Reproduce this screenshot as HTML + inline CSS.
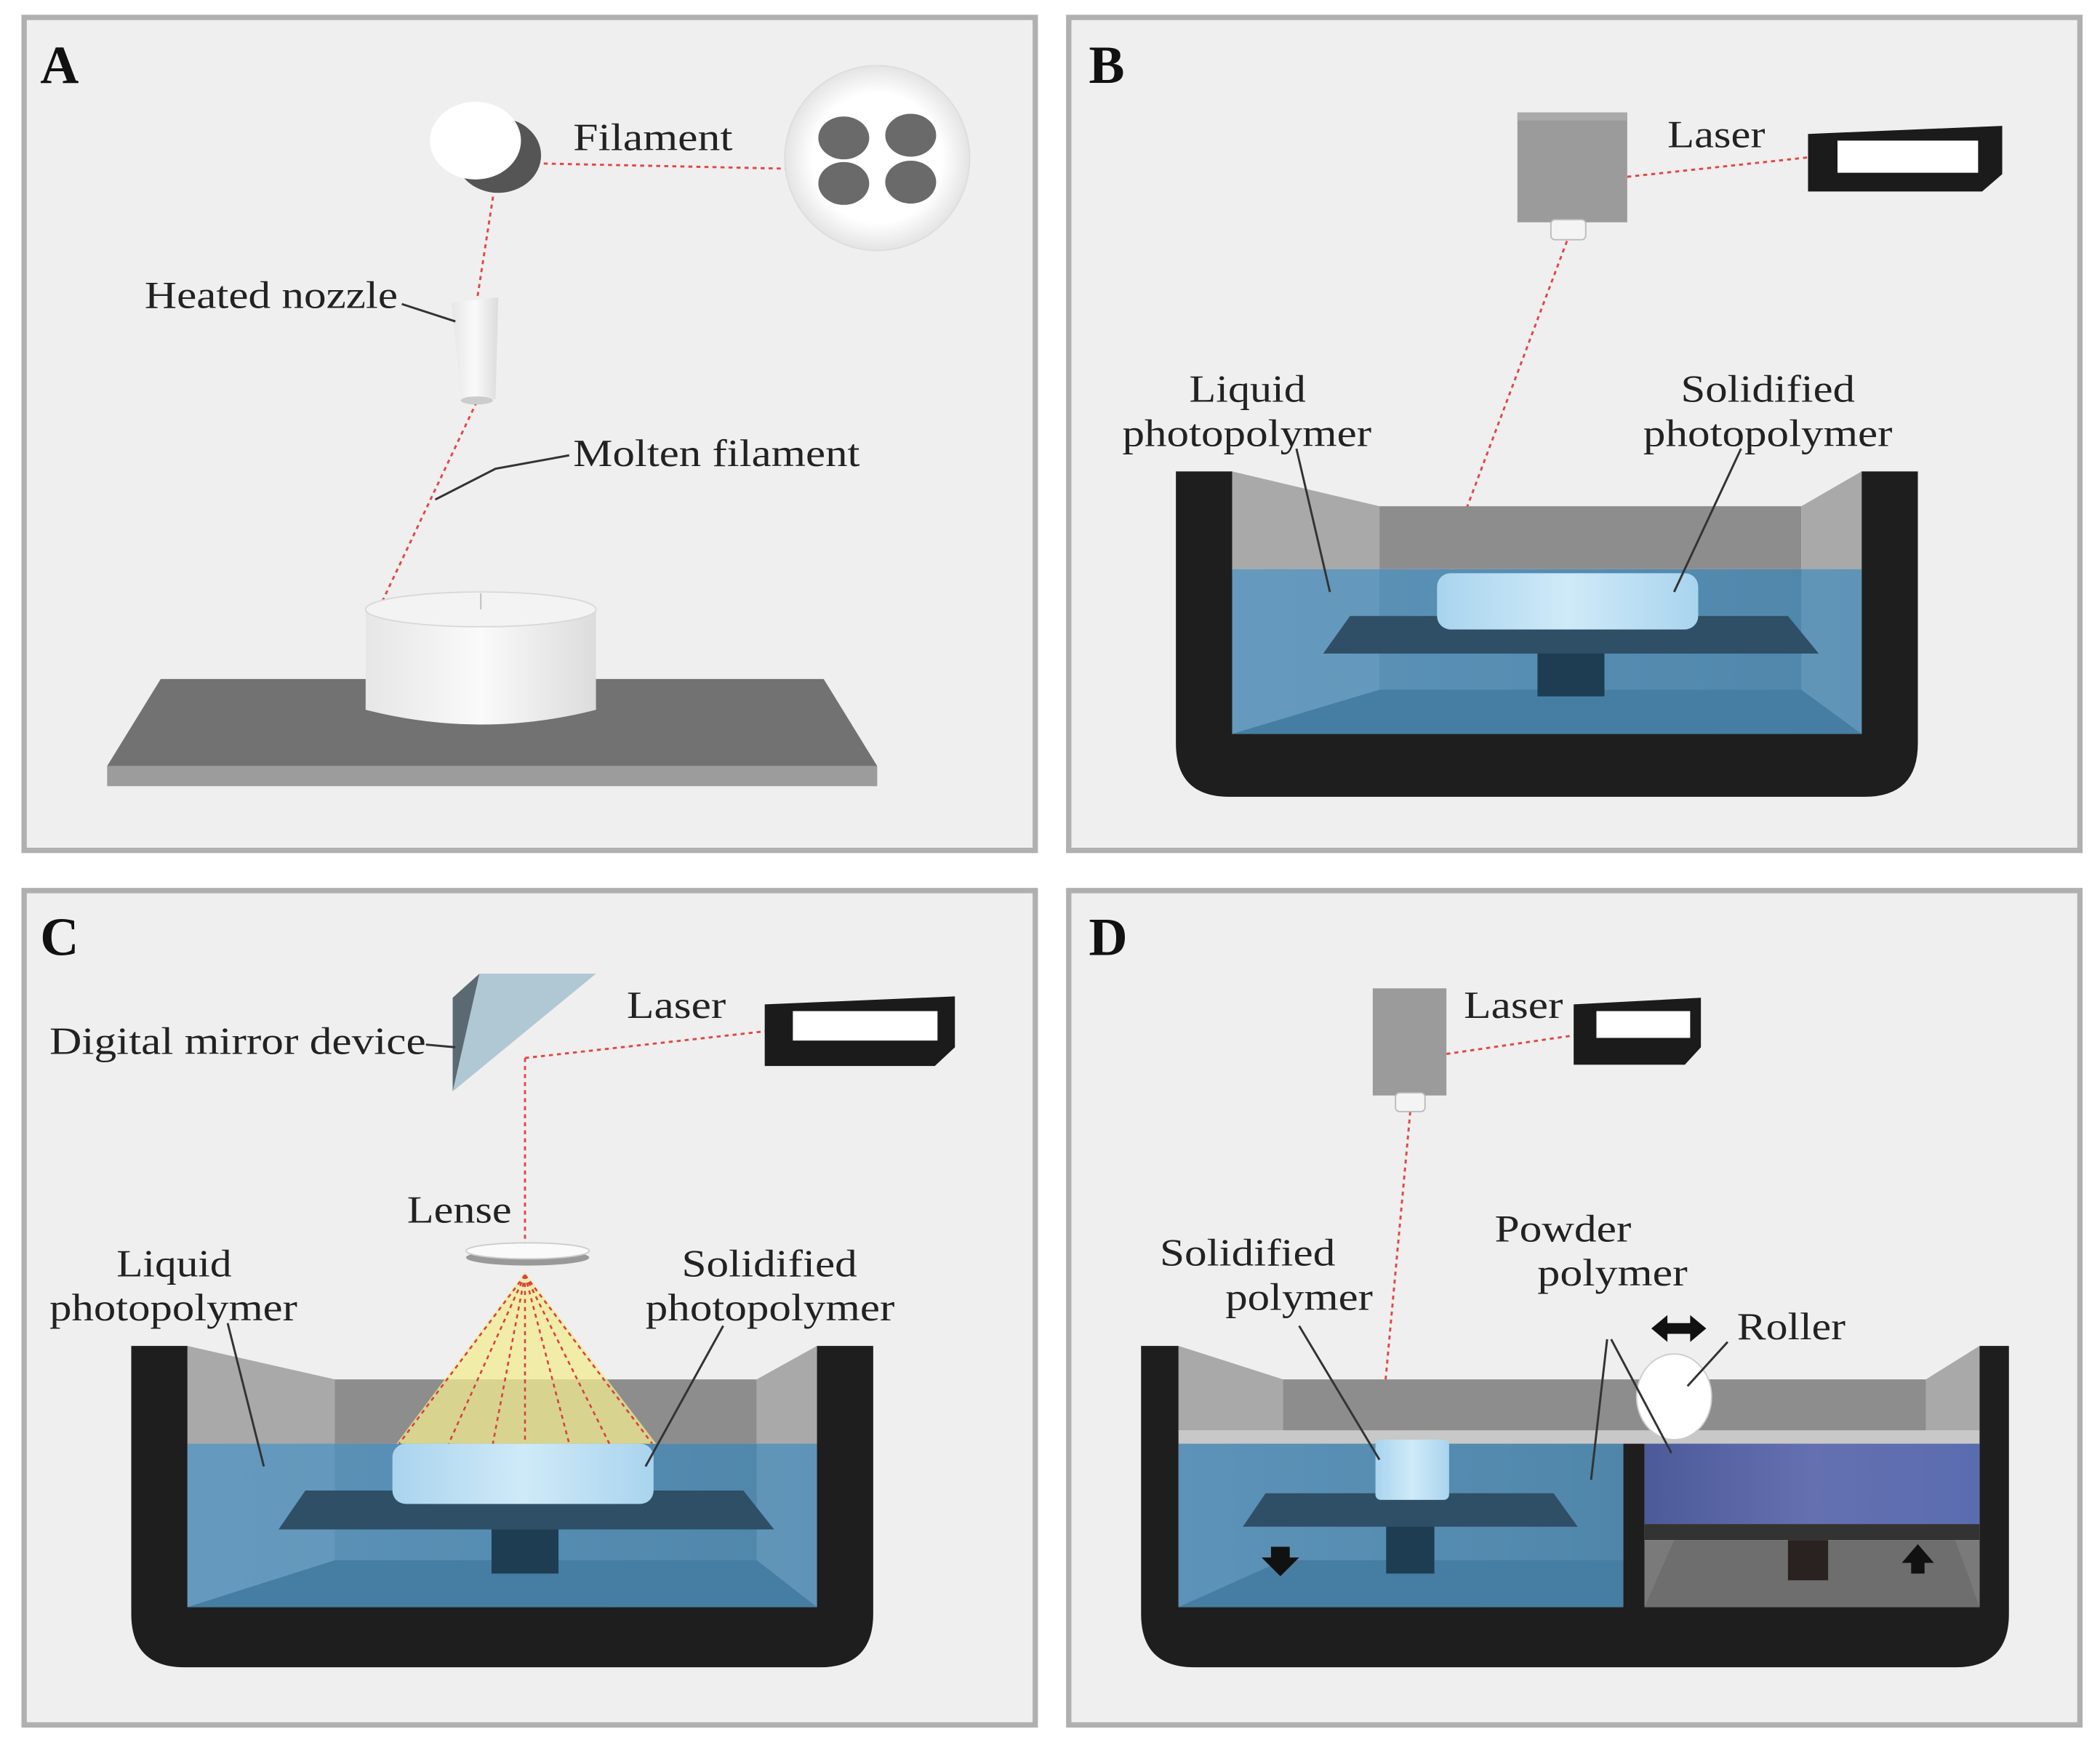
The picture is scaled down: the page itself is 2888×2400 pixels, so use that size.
<!DOCTYPE html>
<html><head><meta charset="utf-8"><style>
html,body{margin:0;padding:0;background:#fff;}
svg{display:block;}
text{font-family:"Liberation Serif",serif;fill:#222;}
</style></head><body>
<svg width="2888" height="2400" viewBox="0 0 1568 1303" preserveAspectRatio="none" xmlns="http://www.w3.org/2000/svg">
<defs>
<linearGradient id="wat" x1="0" y1="0" x2="1" y2="0"><stop offset="0" stop-color="#5d93b8"/><stop offset="1" stop-color="#4f86aa"/></linearGradient>
<linearGradient id="sol" x1="0" y1="0" x2="1" y2="0"><stop offset="0" stop-color="#a9d4ee"/><stop offset="0.5" stop-color="#cfeaf8"/><stop offset="1" stop-color="#a9d4ee"/></linearGradient>
<linearGradient id="cyl" x1="0" y1="0" x2="1" y2="0"><stop offset="0" stop-color="#e6e6e6"/><stop offset="0.5" stop-color="#fafafa"/><stop offset="1" stop-color="#dcdcdc"/></linearGradient>
<linearGradient id="pow" x1="0" y1="0" x2="1" y2="0"><stop offset="0" stop-color="#4d5a9a"/><stop offset="0.5" stop-color="#6470b0"/><stop offset="1" stop-color="#5a6cb0"/></linearGradient>
<radialGradient id="fil"><stop offset="0.7" stop-color="#fff"/><stop offset="1" stop-color="#e4e4e4"/></radialGradient>
</defs>
<rect width="1568" height="1303" fill="#fff"/>
<g fill="#efefef" stroke="#b0b0b0" stroke-width="4">
<rect x="18" y="13" width="755" height="622"/>
<rect x="798" y="13" width="755" height="622"/>
<rect x="18" y="665" width="755" height="623"/>
<rect x="798" y="665" width="755" height="623"/>
</g>
<g font-weight="bold" font-size="40">
<text x="30" y="62" style="fill:#111">A</text>
<text x="813" y="62" style="fill:#111">B</text>
<text x="30" y="713" style="fill:#111">C</text>
<text x="813" y="713" style="fill:#111">D</text>
</g>
<g fill="none" stroke="#e04848" stroke-width="1.6" stroke-dasharray="3,3">
<line x1="400" y1="122" x2="590" y2="126"/>
<line x1="370" y1="135" x2="356" y2="225"/>
<line x1="356" y1="300" x2="285" y2="450"/>
<line x1="1215" y1="132" x2="1355" y2="117"/>
<line x1="1170" y1="180" x2="1078" y2="425"/>
<line x1="392" y1="790" x2="572" y2="770"/>
<line x1="392" y1="790" x2="392" y2="925"/>
<line x1="1080" y1="787" x2="1176" y2="773"/>
<line x1="1053" y1="830" x2="1030" y2="1080"/>
</g>
<!-- Panel A -->
<ellipse cx="372" cy="116" rx="32" ry="28" fill="#555"/>
<ellipse cx="355" cy="105" rx="34" ry="29" fill="#fff"/>
<circle cx="655" cy="118" r="69" fill="url(#fil)" stroke="#ddd"/>
<g fill="#6a6a6a"><ellipse cx="630" cy="103" rx="19" ry="16"/><ellipse cx="680" cy="101" rx="19" ry="16"/><ellipse cx="630" cy="137" rx="19" ry="16"/><ellipse cx="680" cy="136" rx="19" ry="16"/></g>
<polygon points="337,226 372,222 370,298 345,300" fill="url(#cyl)"/>
<ellipse cx="356" cy="299" rx="12" ry="3" fill="#ccc"/>
<polygon points="120,507 615,507 655,572 80,572" fill="#727272"/>
<polygon points="80,572 655,572 655,587 80,587" fill="#9c9c9c"/>
<path d="M273,455 L273,530 Q359,552 445,530 L445,455 Z" fill="url(#cyl)"/>
<ellipse cx="359" cy="455" rx="86" ry="13" fill="#f3f3f3" stroke="#d8d8d8"/>
<line x1="359" y1="443" x2="359" y2="455" stroke="#bbb"/>
<g stroke="#333" stroke-width="1.6" fill="none">
<line x1="300" y1="227" x2="340" y2="240"/>
<polyline points="325,373 370,350 425,340"/>
</g>
<g font-size="29" lengthAdjust="spacingAndGlyphs">
<text x="428" y="112" textLength="119" lengthAdjust="spacingAndGlyphs">Filament</text>
<text x="108" y="230" textLength="189" lengthAdjust="spacingAndGlyphs">Heated nozzle</text>
<text x="428" y="348" textLength="214" lengthAdjust="spacingAndGlyphs">Molten filament</text>
</g>
<!-- Panel B -->
<rect x="1133" y="84" width="82" height="82" fill="#9b9b9b"/>
<rect x="1133" y="84" width="82" height="6" fill="#aaa"/>
<rect x="1158" y="164" width="26" height="15" rx="3" fill="#f4f4f4" stroke="#bbb"/>
<polygon points="1350,100 1495,94 1495,130 1480,143 1350,143" fill="#1b1b1b"/>
<rect x="1372" y="105" width="105" height="24" fill="#fff"/>
<path d="M878,352 H920 V548 H1390 V352 H1432 V555 Q1432,595 1392,595 H918 Q878,595 878,555 Z" fill="#1e1e1e"/>
<polygon points="920,352 1030,378 1030,425 920,425" fill="#a9a9a9"/>
<rect x="1030" y="378" width="315" height="47" fill="#8d8d8d"/>
<polygon points="1345,378 1390,352 1390,425 1345,425" fill="#a9a9a9"/>
<rect x="920" y="425" width="470" height="123" fill="url(#wat)"/>
<polygon points="920,548 1030,515 1345,515 1390,548" fill="#467ea3"/>
<polygon points="920,425 1030,425 1030,515 920,548" fill="#6a9fc2" opacity="0.6"/>
<polygon points="1345,425 1390,425 1390,548 1345,515" fill="#6a9fc2" opacity="0.6"/>
<rect x="1148" y="485" width="50" height="35" fill="#1f3d52"/>
<polygon points="1008,460 1335,460 1358,488 988,488" fill="#2e4f66"/>
<rect x="1073" y="428" width="195" height="42" rx="10" fill="url(#sol)"/>
<g stroke="#333" stroke-width="1.6" fill="none">
<line x1="968" y1="335" x2="993" y2="442"/>
<line x1="1300" y1="335" x2="1250" y2="442"/>
</g>
<g font-size="29">
<text x="888" y="300" textLength="87" lengthAdjust="spacingAndGlyphs">Liquid</text>
<text x="838" y="333" textLength="186" lengthAdjust="spacingAndGlyphs">photopolymer</text>
<text x="1255" y="300" textLength="130" lengthAdjust="spacingAndGlyphs">Solidified</text>
<text x="1227" y="333" textLength="186" lengthAdjust="spacingAndGlyphs">photopolymer</text>
<text x="1245" y="110" textLength="73" lengthAdjust="spacingAndGlyphs">Laser</text>
</g>
<!-- Panel C -->
<polygon points="358,727 445,727 338,815" fill="#b0c8d4"/>
<polygon points="338,745 358,727 338,815" fill="#5b6a72"/>
<polygon points="571,750 713,744 713,782 698,796 571,796" fill="#1b1b1b"/>
<rect x="592" y="755" width="108" height="22" fill="#fff"/>
<path d="M98,1005 H140 V1200 H610 V1005 H652 V1205 Q652,1245 612,1245 H138 Q98,1245 98,1205 Z" fill="#1e1e1e"/>
<polygon points="140,1005 250,1030 250,1078 140,1078" fill="#a9a9a9"/>
<rect x="250" y="1030" width="315" height="48" fill="#8d8d8d"/>
<polygon points="565,1030 610,1005 610,1078 565,1078" fill="#a9a9a9"/>
<rect x="140" y="1078" width="470" height="122" fill="url(#wat)"/>
<polygon points="140,1200 250,1165 565,1165 610,1200" fill="#467ea3"/>
<polygon points="140,1078 250,1078 250,1165 140,1200" fill="#6a9fc2" opacity="0.6"/>
<polygon points="565,1078 610,1078 610,1200 565,1165" fill="#6a9fc2" opacity="0.6"/>
<polygon points="392,950 296,1078 490,1078" fill="#f2ec90" opacity="0.75"/>
<rect x="367" y="1138" width="50" height="37" fill="#1f3d52"/>
<polygon points="228,1113 555,1113 578,1142 208,1142" fill="#2e4f66"/>
<rect x="293" y="1078" width="195" height="45" rx="10" fill="url(#sol)"/>
<g stroke="#d84040" stroke-width="1.4" stroke-dasharray="3,3">
<line x1="392" y1="952" x2="298" y2="1078"/><line x1="392" y1="952" x2="335" y2="1078"/><line x1="392" y1="952" x2="368" y2="1078"/>
<line x1="392" y1="952" x2="392" y2="1078"/><line x1="392" y1="952" x2="425" y2="1078"/><line x1="392" y1="952" x2="455" y2="1078"/><line x1="392" y1="952" x2="487" y2="1078"/>
</g>
<ellipse cx="394" cy="939" rx="46" ry="6" fill="#999"/>
<ellipse cx="394" cy="934" rx="46" ry="6" fill="#fafafa" stroke="#ccc"/>
<g stroke="#333" stroke-width="1.6" fill="none">
<line x1="318" y1="780" x2="340" y2="782"/>
<line x1="170" y1="988" x2="197" y2="1095"/>
<line x1="540" y1="990" x2="482" y2="1095"/>
</g>
<g font-size="29">
<text x="37" y="787" textLength="281" lengthAdjust="spacingAndGlyphs">Digital mirror device</text>
<text x="468" y="760" textLength="74" lengthAdjust="spacingAndGlyphs">Laser</text>
<text x="304" y="913" textLength="78" lengthAdjust="spacingAndGlyphs">Lense</text>
<text x="87" y="953" textLength="86" lengthAdjust="spacingAndGlyphs">Liquid</text>
<text x="37" y="986" textLength="185" lengthAdjust="spacingAndGlyphs">photopolymer</text>
<text x="509" y="953" textLength="131" lengthAdjust="spacingAndGlyphs">Solidified</text>
<text x="482" y="986" textLength="186" lengthAdjust="spacingAndGlyphs">photopolymer</text>
</g>
<!-- Panel D -->
<rect x="1025" y="738" width="55" height="80" fill="#9b9b9b"/>
<rect x="1042" y="816" width="22" height="14" rx="3" fill="#f4f4f4" stroke="#bbb"/>
<polygon points="1175,750 1270,745 1270,782 1258,795 1175,795" fill="#1b1b1b"/>
<rect x="1192" y="755" width="70" height="20" fill="#fff"/>
<path d="M852,1005 H880 V1200 H1212 V1075 H1228 V1200 H1478 V1005 H1500 V1205 Q1500,1245 1460,1245 H892 Q852,1245 852,1205 Z" fill="#1e1e1e"/>
<polygon points="880,1005 958,1030 958,1070 880,1070" fill="#a9a9a9"/>
<rect x="958" y="1030" width="480" height="40" fill="#8d8d8d"/>
<polygon points="1438,1030 1478,1005 1478,1070 1438,1070" fill="#a9a9a9"/>
<polygon points="880,1068 1478,1068 1478,1078 880,1078" fill="#c8c8c8"/>
<rect x="880" y="1078" width="332" height="122" fill="url(#wat)"/>
<polygon points="880,1200 958,1165 1212,1165 1212,1200" fill="#467ea3"/>
<rect x="1228" y="1078" width="250" height="60" fill="url(#pow)"/>
<rect x="1228" y="1138" width="250" height="12" fill="#333"/>
<rect x="1228" y="1150" width="250" height="50" fill="#7a7a7a"/>
<polygon points="1228,1200 1250,1150 1460,1150 1478,1200" fill="#6e6e6e"/>
<rect x="1335" y="1150" width="30" height="30" fill="#2a2220"/>
<rect x="1035" y="1135" width="36" height="40" fill="#1f3d52"/>
<polygon points="945,1115 1160,1115 1178,1140 928,1140" fill="#2e4f66"/>
<rect x="1027" y="1075" width="55" height="45" rx="4" fill="url(#sol)"/>
<ellipse cx="1250" cy="1043" rx="28" ry="32" fill="#fff" stroke="#ccc"/>
<polygon points="949,1155 963,1155 963,1163 970,1163 956,1177 942,1163 949,1163" fill="#111"/>
<polygon points="1427,1175 1437,1175 1437,1167 1444,1167 1432,1153 1420,1167 1427,1167" fill="#111"/>
<polygon points="1233,992 1245,982 1245,988 1262,988 1262,982 1274,992 1262,1002 1262,996 1245,996 1245,1002" fill="#111"/>
<g stroke="#333" stroke-width="1.6" fill="none">
<line x1="970" y1="990" x2="1030" y2="1090"/>
<line x1="1200" y1="1000" x2="1188" y2="1105"/>
<line x1="1203" y1="1000" x2="1248" y2="1085"/>
<line x1="1290" y1="1002" x2="1260" y2="1035"/>
</g>
<g font-size="29">
<text x="1093" y="760" textLength="74" lengthAdjust="spacingAndGlyphs">Laser</text>
<text x="866" y="945" textLength="131" lengthAdjust="spacingAndGlyphs">Solidified</text>
<text x="915" y="978" textLength="110" lengthAdjust="spacingAndGlyphs">polymer</text>
<text x="1116" y="927" textLength="102" lengthAdjust="spacingAndGlyphs">Powder</text>
<text x="1148" y="960" textLength="112" lengthAdjust="spacingAndGlyphs">polymer</text>
<text x="1297" y="1000" textLength="81" lengthAdjust="spacingAndGlyphs">Roller</text>
</g>
</svg>
</body></html>
